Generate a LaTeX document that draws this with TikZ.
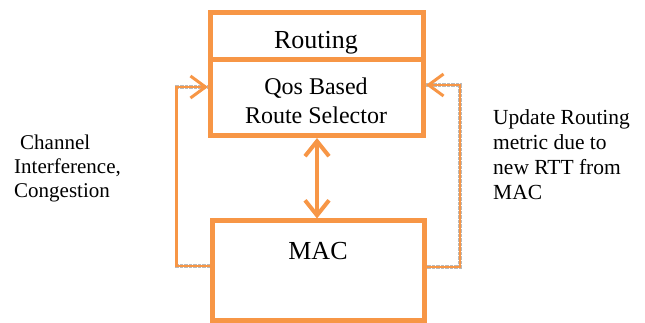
\documentclass[tikz,border=0pt]{standalone}
\usepackage{fontspec}
\setmainfont{Liberation Serif}
\usetikzlibrary{arrows.meta}
\definecolor{boxorange}{RGB}{247,150,70}

\begin{document}
\begin{tikzpicture}[x=1pt, y=-1pt,
	layer/.style={rectangle, draw=boxorange, line width=5pt, inner sep=0pt},
	boxtext/.style={inner sep=0pt, anchor=base, align=center},
	sidetext/.style={inner sep=0pt, anchor=base west, align=left, font=\fontsize{21}{23.7}\selectfont},
	feedback/.style={draw=boxorange, line width=2.5pt, -{Straight Barb[length=15pt, width=22pt, line width=3pt]}, preaction={draw=gray!55, line width=3.5pt, densely dotted, -}},
	biarrow/.style={draw=boxorange, line width=4pt, {Straight Barb[length=15pt, width=24pt]}-{Straight Barb[length=15pt, width=24pt]}}]
		\useasboundingbox (0,0) rectangle (645,323);
		% the three layers
		\node[layer, minimum width=213pt, minimum height=47.5pt](routing) at (317,36.25){};
		\node[layer, minimum width=213pt, minimum height=75.5pt](qos) at (317,97.75){};
		\node[layer, minimum width=212pt, minimum height=99.5pt](mac) at (318.5,270.75){};
		\node[boxtext, font=\fontsize{26}{30}\selectfont](routingtxt) at (316,49){Routing};
		\node[boxtext, font=\fontsize{24}{29}\selectfont](qostxt) at (316,123.5){Qos Based\\Route Selector};
		\node[boxtext, font=\fontsize{26}{30}\selectfont](mactxt) at (318,259){MAC};
		% side labels (base = last line)
		\node[sidetext](lefttxt) at (14,197){\hspace*{6pt}Channel\\Interference,\\Congestion};
		\node[sidetext, font=\fontsize{21.5}{25}\selectfont](righttxt) at (493,200){Update Routing\\metric due to\\new RTT from\\MAC};
		% loop points
		\coordinate (loopL) at (176.5,266);
		\coordinate (loopR) at (460,267);
		\coordinate (tipL) at (208,87);
		\coordinate (tipR) at (426,85);
		\draw[feedback] (mac.west |- loopL) -- (loopL) |- (tipL);
		\draw[feedback] (mac.east |- loopR) -- (loopR) |- (tipR);
		\draw[biarrow] (qos.south) -- (qos.south |- mac.north);
	\end{tikzpicture}
\end{document}
